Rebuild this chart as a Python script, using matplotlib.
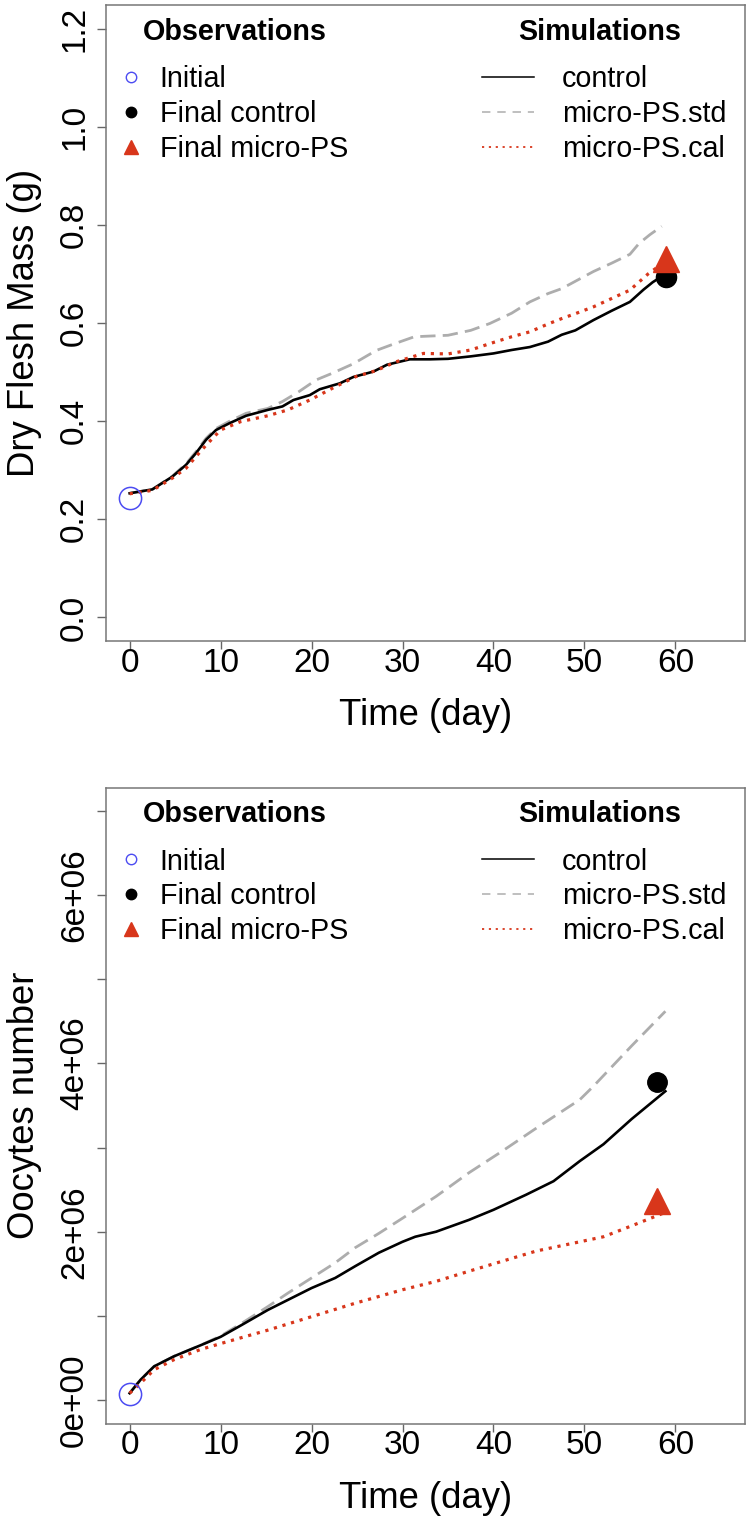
import matplotlib
matplotlib.use("Agg")
import matplotlib.pyplot as plt
from matplotlib.lines import Line2D

plt.rcParams['font.family'] = ['Liberation Sans', 'DejaVu Sans']

# ---- data ----
# top panel: dry flesh mass (g)
mass_ctrl_days = [0, 2.5, 4.7, 6.2, 7.3, 8.4, 9.5, 11, 12.8, 15.2, 16.8, 18, 19.8, 20.9, 23.1, 24.6,
                  26.8, 28.3, 30.8, 33, 35, 37.5, 40, 42, 44, 46, 47.5, 49, 51, 53, 55, 56.5, 57.5, 58.5]
mass_ctrl = [0.253, 0.261, 0.287, 0.311, 0.335, 0.362, 0.382, 0.396, 0.411, 0.423, 0.430, 0.443, 0.453,
             0.465, 0.477, 0.490, 0.501, 0.515, 0.526, 0.526, 0.527, 0.532, 0.538, 0.545, 0.551, 0.562,
             0.576, 0.585, 0.606, 0.625, 0.643, 0.668, 0.683, 0.695]

mass_std_days = [0, 2.5, 4.7, 6.2, 7.3, 8.4, 9.5, 11, 12.8, 15.2, 16.8, 18.6, 20.5, 22.2, 24.6, 27.1,
                 29, 31.3, 35, 37.5, 39.6, 42, 44, 46, 47.5, 49, 51, 53, 55, 56, 57.2, 58.5]
mass_std = [0.253, 0.261, 0.288, 0.313, 0.338, 0.365, 0.385, 0.400, 0.416, 0.426, 0.440, 0.460, 0.484,
            0.497, 0.517, 0.544, 0.557, 0.572, 0.575, 0.585, 0.599, 0.620, 0.643, 0.660, 0.670, 0.685,
            0.705, 0.722, 0.740, 0.762, 0.780, 0.797]

mass_cal_days = [0, 2.5, 4.7, 6.2, 7.3, 8.4, 10, 12.2, 15.2, 17.4, 19.8, 22.6, 24.9, 27.1, 29.3, 32.3,
                 35, 37.5, 39.6, 42, 44, 46, 47.5, 49, 51, 53, 55, 57, 58.5]
mass_cal = [0.252, 0.259, 0.284, 0.304, 0.328, 0.351, 0.382, 0.399, 0.411, 0.423, 0.443, 0.470, 0.491,
            0.503, 0.521, 0.538, 0.537, 0.545, 0.558, 0.572, 0.582, 0.598, 0.609, 0.619, 0.633, 0.650,
            0.667, 0.700, 0.720]

mass_init = (0, 0.243)
mass_final_ctrl = (59, 0.693)
mass_final_ps = (59, 0.731)

# bottom panel: oocytes number
ooc_ctrl_days = [0, 1.2, 2.7, 4.9, 7.8, 10, 12.3, 15.2, 20, 22.6, 24.8, 27.4, 30, 31.4, 33.7, 37.3,
                 40, 43.6, 46.6, 49.5, 52.1, 55.2, 58.9]
ooc_ctrl = [0.08e6, 0.24e6, 0.40e6, 0.52e6, 0.65e6, 0.75e6, 0.89e6, 1.07e6, 1.33e6, 1.45e6, 1.59e6,
            1.75e6, 1.88e6, 1.94e6, 2.00e6, 2.14e6, 2.26e6, 2.44e6, 2.60e6, 2.84e6, 3.04e6, 3.34e6, 3.67e6]

ooc_std_days = [0, 1.2, 2.7, 4.9, 7.8, 10, 12.3, 15.2, 17.4, 20, 22.6, 24.8, 27.4, 30, 33.7, 37.3,
                41, 44.7, 49.5, 51, 55.2, 58.9]
ooc_std = [0.08e6, 0.24e6, 0.40e6, 0.52e6, 0.65e6, 0.76e6, 0.91e6, 1.11e6, 1.27e6, 1.45e6, 1.63e6,
           1.81e6, 1.98e6, 2.16e6, 2.42e6, 2.70e6, 2.96e6, 3.23e6, 3.57e6, 3.73e6, 4.21e6, 4.62e6]

ooc_cal_days = [0, 1.2, 2.7, 4.9, 7.8, 10, 15.2, 20, 24.8, 30, 33.7, 37.3, 41, 44.7, 49.5, 52.1,
                55.2, 58.9]
ooc_cal = [0.08e6, 0.20e6, 0.36e6, 0.48e6, 0.60e6, 0.67e6, 0.83e6, 0.99e6, 1.15e6, 1.31e6, 1.41e6,
           1.53e6, 1.65e6, 1.77e6, 1.88e6, 1.94e6, 2.07e6, 2.23e6]

ooc_init = (0, 0.071e6)
ooc_final_ctrl = (58, 3.78e6)
ooc_final_ps = (58, 2.36e6)

x_ticks = [0, 10, 20, 30, 40, 50, 60]
mass_ticks = [0.0, 0.2, 0.4, 0.6, 0.8, 1.0, 1.2]
mass_ticklabels = ["0.0", "0.2", "0.4", "0.6", "0.8", "1.0", "1.2"]
ooc_ticks = [0, 1e6, 2e6, 3e6, 4e6, 5e6, 6e6, 7e6]
ooc_ticklabels = ["0e+00", "", "2e+06", "", "4e+06", "", "6e+06", ""]

RED = "#d8361b"
GREY = "#adadad"
BLUE = "#4c4cf2"

W, H = 747, 1522
fig = plt.figure(figsize=(W / 100, H / 100), dpi=100)

ax_left, ax_w, ax_h = 106, 638.5, 636


def panel(top_px, ctrl, std, cal, init, fctrl, fps, yticks, ylabels, ylim, ylabel, msz):
    ax = fig.add_axes([ax_left / W, 1 - (top_px + ax_h) / H, ax_w / W, ax_h / H])
    ax.plot(ctrl[0], ctrl[1], color="black", lw=1.9, zorder=4)
    ax.plot(std[0], std[1], color=GREY, lw=2.0, dashes=(5.5, 2.6), zorder=3)
    ax.plot(cal[0], cal[1], color=RED, lw=2.3, dashes=(1.0, 1.8), zorder=5)
    ax.plot(init[0], init[1], 'o', mfc='none', mec=BLUE, mew=1.1, ms=16, zorder=6)
    ax.plot(fctrl[0], fctrl[1], 'o', color="black", ms=msz[0], zorder=6)
    ax.plot(fps[0], fps[1], '^', color=RED, ms=msz[1], zorder=6)

    ax.set_xlim(-2.6, 67.6)
    ax.set_ylim(*ylim)
    ax.set_xticks(x_ticks)
    ax.set_yticks(yticks)
    ax.set_yticklabels(ylabels)
    ax.tick_params(axis='x', labelsize=24, length=6, width=1, color="#666666", pad=-1)
    ax.tick_params(axis='y', labelsize=24, length=6.5, width=1, color="#666666", pad=5,
                   labelrotation=90)
    for lab in ax.get_yticklabels():
        lab.set_verticalalignment('center')
    for sp in ax.spines.values():
        sp.set_color("#777777")
        sp.set_linewidth(1.1)
    ax.set_xlabel("Time (day)", fontsize=26.3, labelpad=14)
    ax.set_ylabel(ylabel, fontsize=26.3, labelpad=12)

    # legend titles
    ax.text(37 / ax_w, 1 - 27 / ax_h, "Observations", transform=ax.transAxes, fontsize=20.7,
            fontweight="bold", va="center", ha="left")
    ax.text(412 / ax_w, 1 - 27 / ax_h, "Simulations", transform=ax.transAxes, fontsize=20.7,
            fontweight="bold", va="center", ha="left")

    obs_handles = [
        Line2D([], [], ls='none', marker='o', mfc='none', mec=BLUE, mew=1.0, ms=7.5),
        Line2D([], [], ls='none', marker='o', color='black', ms=7.5),
        Line2D([], [], ls='none', marker='^', color=RED, ms=10),
    ]
    leg1 = ax.legend(obs_handles, ["Initial", "Final control", "Final micro-PS"],
                     loc="upper left", bbox_to_anchor=(11 / ax_w, 1 - 60 / ax_h),
                     frameon=False, fontsize=20.7, borderpad=0, borderaxespad=0,
                     handlelength=1.0, handletextpad=0.49, labelspacing=0.24, numpoints=1)
    ax.add_artist(leg1)
    sim_handles = [
        Line2D([], [], color='black', lw=1.1),
        Line2D([], [], color=GREY, lw=1.1, dashes=(5.5, 4.5)),
        Line2D([], [], color=RED, lw=1.3, dashes=(1.2, 2.6)),
    ]
    ax.legend(sim_handles, ["control", "micro-PS.std", "micro-PS.cal"],
              loc="upper left", bbox_to_anchor=(376 / ax_w, 1 - 60 / ax_h),
              frameon=False, fontsize=20.7, borderpad=0, borderaxespad=0,
              handlelength=1.81, handletextpad=0.97, labelspacing=0.24)
    return ax


panel(5, (mass_ctrl_days, mass_ctrl), (mass_std_days, mass_std), (mass_cal_days, mass_cal),
      mass_init, mass_final_ctrl, mass_final_ps, mass_ticks, mass_ticklabels,
      (-0.048, 1.248), "Dry Flesh Mass (g)", (14.5, 19))

panel(787.5, (ooc_ctrl_days, ooc_ctrl), (ooc_std_days, ooc_std), (ooc_cal_days, ooc_cal),
      ooc_init, ooc_final_ctrl, ooc_final_ps, ooc_ticks, ooc_ticklabels,
      (-0.28e6, 7.28e6), "Oocytes number", (14, 18.5))

fig.savefig("out.png", dpi=100)
